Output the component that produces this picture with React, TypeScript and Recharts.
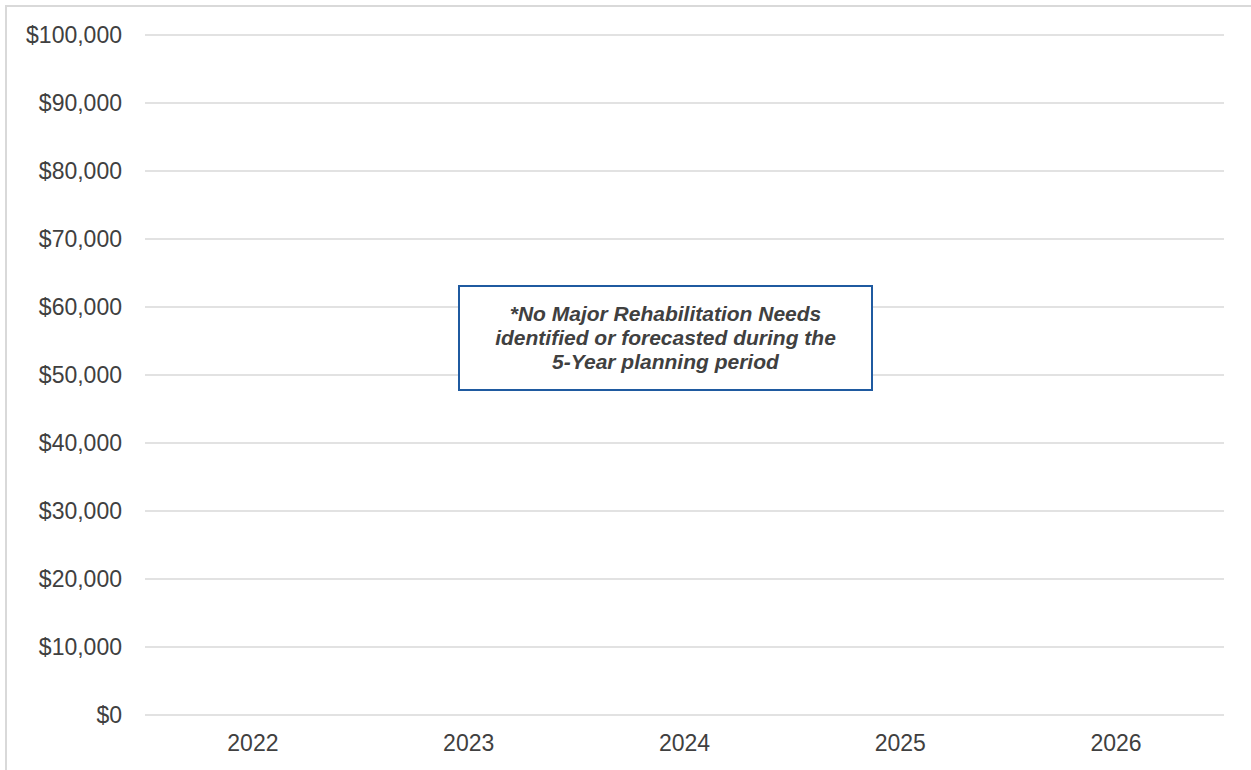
import { BarChart, Bar, XAxis, YAxis, CartesianGrid } from "recharts";

// Planned major rehabilitation cost by year (none identified)
const years = ["2022", "2023", "2024", "2025", "2026"];
const rehabCost = [0, 0, 0, 0, 0];
const yTicks = [0, 10000, 20000, 30000, 40000, 50000, 60000, 70000, 80000, 90000, 100000];
const noteLines = [
    "*No Major Rehabilitation Needs",
    "identified or forecasted during the",
    "5-Year planning period",
];

const FONT = '"Liberation Sans", Arial, sans-serif';
const TEXT = "#404040";
const GRID = "#d9d9d9";

const formatDollars = (v: number) => "$" + v.toLocaleString("en-US");

export default function App() {
    const data = years.map((year, i) => ({ year, cost: rehabCost[i] }));

    return (
        <div
            style={{
                position: "fixed",
                left: 0,
                top: 0,
                width: 1251,
                height: 770,
                background: "#fff",
                fontFamily: FONT,
            }}
        >
            {/* chart frame (only left and top edges fall inside the picture) */}
            <div
                style={{
                    position: "absolute",
                    left: 5,
                    top: 5,
                    width: 1260,
                    height: 780,
                    border: `2px solid ${GRID}`,
                    boxSizing: "border-box",
                }}
            />
            <BarChart
                width={1251}
                height={770}
                data={data}
                margin={{ top: 35, right: 27, left: 0, bottom: 0 }}
                style={{ position: "absolute", left: 0, top: 0 }}
            >
                <CartesianGrid vertical={false} stroke={GRID} strokeWidth={1.5} />
                <XAxis
                    dataKey="year"
                    height={55}
                    axisLine={false}
                    tickLine={false}
                    tickSize={0}
                    tickMargin={20}
                    tick={{ fill: TEXT, fontSize: 23, fontFamily: FONT }}
                />
                <YAxis
                    width={145}
                    domain={[0, 100000]}
                    ticks={yTicks}
                    tickFormatter={formatDollars}
                    axisLine={false}
                    tickLine={false}
                    tickSize={0}
                    tickMargin={23}
                    tick={{ fill: TEXT, fontSize: 23, fontFamily: FONT }}
                />
                <Bar dataKey="cost" fill="#1f5aa0" isAnimationActive={false} />
            </BarChart>
            {/* note box */}
            <div
                style={{
                    position: "absolute",
                    left: 458,
                    top: 285,
                    width: 415,
                    height: 106,
                    border: "2.5px solid #1f5aa0",
                    boxSizing: "border-box",
                    background: "#fff",
                    display: "flex",
                    flexDirection: "column",
                    alignItems: "center",
                    justifyContent: "center",
                    color: TEXT,
                    fontSize: 21,
                    fontWeight: "bold",
                    fontStyle: "italic",
                    lineHeight: "24px",
                    textAlign: "center",
                }}
            >
                {noteLines.map((line) => (
                    <div key={line}>{line}</div>
                ))}
            </div>
        </div>
    );
}
